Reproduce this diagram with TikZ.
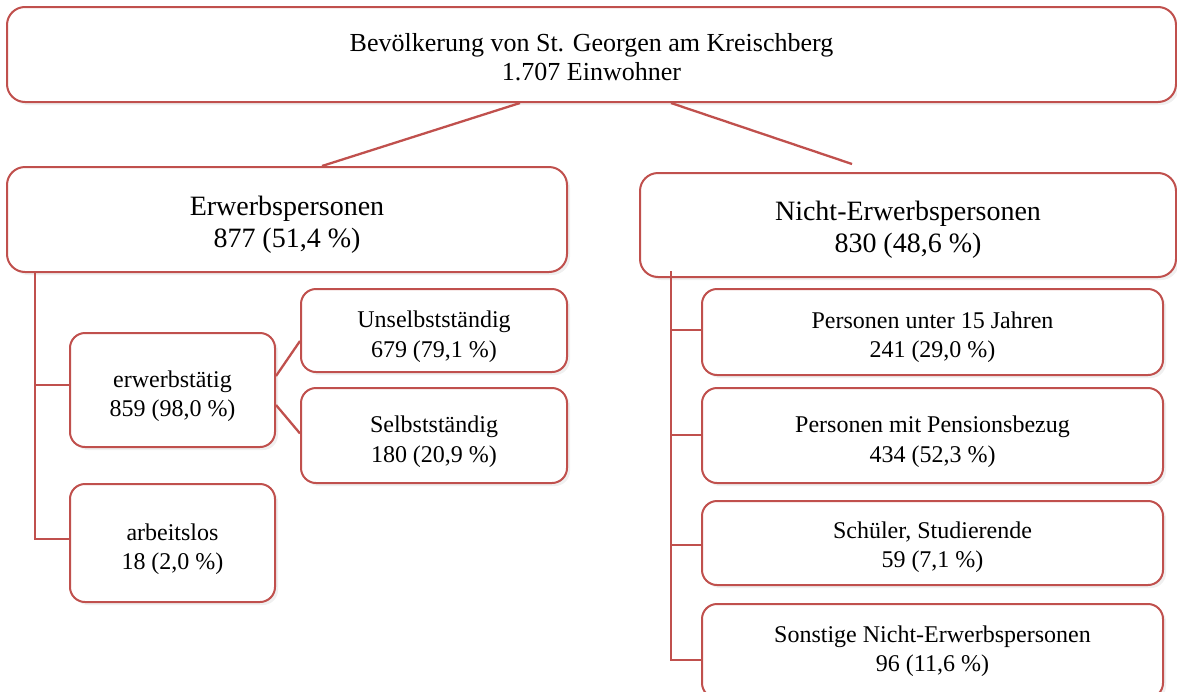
\documentclass[tikz,border=0pt]{standalone}
\usepackage{fontspec}
\setmainfont{Liberation Serif}
\usetikzlibrary{shadows}
\definecolor{accred}{HTML}{C0504D}
\tikzset{
  box/.style={draw=accred, line width=2pt, fill=white, rounded corners=18pt,
    inner sep=0pt,
    drop shadow={opacity=0.12, shadow xshift=3pt, shadow yshift=-3pt}},
  smallbox/.style={box, rounded corners=15pt},
  conn/.style={draw=accred, line width=2.3pt},
  txt/.style={align=center, inner sep=0pt},
  ftop/.style={txt, font=\fontsize{26}{29}\selectfont},
  fmid/.style={txt, font=\fontsize{28}{32}\selectfont},
  fsmall/.style={txt, font=\fontsize{24}{29.5}\selectfont},
}
\begin{document}
\begin{tikzpicture}[x=1pt, y=-1pt]
\useasboundingbox (0,0) rectangle (1177,691);

\node[box, minimum width=1169pt, minimum height=95pt,
  label={[ftop, yshift=-3pt]center:Bevölkerung von St. Georgen am Kreischberg\\1.707 Einwohner}]
  (top) at (591.5,54.5) {};

\node[box, minimum width=560pt, minimum height=105pt,
  label={[fmid, yshift=-5pt]center:Erwerbspersonen\\877 (51,4 \%)}]
  (erw) at (287,219.5) {};
\node[box, minimum width=536pt, minimum height=104pt,
  label={[fmid, yshift=-5pt]center:Nicht-Erwerbspersonen\\830 (48,6 \%)}]
  (nicht) at (908,225) {};

\draw[conn] ([xshift=-71.5pt]top.south) -- ([xshift=35pt]erw.north);
\draw[conn] ([xshift=79.5pt]top.south) -- ([xshift=-56pt,yshift=8pt]nicht.north);

% left branch
\node[smallbox, minimum width=205pt, minimum height=114pt,
  label={[fsmall, yshift=-6pt]center:erwerbstätig\\859 (98,0 \%)}]
  (erwt) at (172.5,390) {};
\node[smallbox, minimum width=266pt, minimum height=83pt,
  label={[fsmall, yshift=-6pt]center:Unselbstständig\\679 (79,1 \%)}]
  (uns) at (434,330.5) {};
\node[smallbox, minimum width=266pt, minimum height=95pt,
  label={[fsmall, yshift=-6pt]center:Selbstständig\\180 (20,9 \%)}]
  (sel) at (434,435.5) {};
\node[smallbox, minimum width=205pt, minimum height=118pt,
  label={[fsmall, yshift=-6pt]center:arbeitslos\\18 (2,0 \%)}]
  (arb) at (172.5,543) {};

\coordinate (lv) at ([xshift=29pt]erw.south west);
\draw[conn] (lv) |- ([yshift=4pt]arb.west);
\draw[conn] (lv |- erwt.west) ++(0,-5) -- ([yshift=5pt]erwt.west);
\draw[conn] ([yshift=14pt]erwt.east) -- ([yshift=-10.5pt]uns.west);
\draw[conn] ([yshift=-15pt]erwt.east) -- ([yshift=2pt]sel.west);

% right branch
\node[smallbox, minimum width=461pt, minimum height=86pt,
  label={[fsmall, yshift=-5pt]center:Personen unter 15 Jahren\\241 (29,0 \%)}]
  (p15) at (932.5,332) {};
\node[smallbox, minimum width=461pt, minimum height=95pt,
  label={[fsmall, yshift=-6pt]center:Personen mit Pensionsbezug\\434 (52,3 \%)}]
  (pens) at (932.5,435.5) {};
\node[smallbox, minimum width=461pt, minimum height=84pt,
  label={[fsmall, yshift=-4pt]center:Schüler, Studierende\\59 (7,1 \%)}]
  (sch) at (932.5,543) {};
\node[smallbox, minimum width=461pt, minimum height=94pt,
  label={[fsmall, yshift=0pt]center:Sonstige Nicht-Erwerbspersonen\\96 (11,6 \%)}]
  (son) at (932.5,651) {};

\coordinate (rv) at ([xshift=32pt,yshift=7pt]nicht.south west);
\draw[conn] (rv) |- ([yshift=-9pt]son.west);
\draw[conn] (rv |- p15.west) ++(0,-2) -- ([yshift=2pt]p15.west);
\draw[conn] (rv |- pens.west) ++(0,-0.5) -- ([yshift=0.5pt]pens.west);
\draw[conn] (rv |- sch.west) ++(0,2) -- ([yshift=-2pt]sch.west);
\end{tikzpicture}
\end{document}
